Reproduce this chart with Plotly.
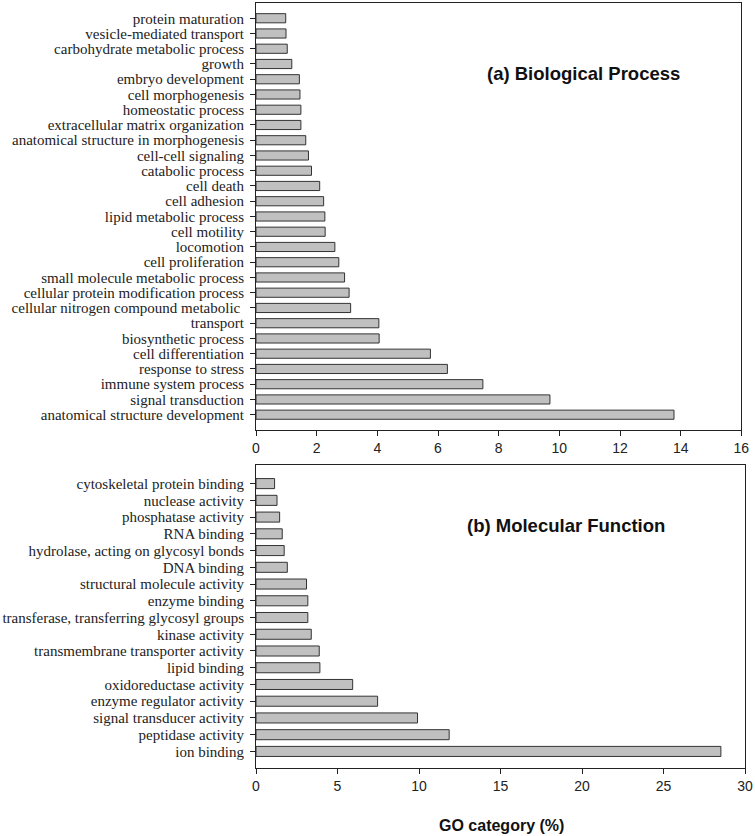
import plotly.graph_objects as go

# (a) Biological Process, listed bottom-up
bp_labels = [
    "anatomical structure development", "signal transduction", "immune system process",
    "response to stress", "cell differentiation", "biosynthetic process", "transport",
    "cellular nitrogen compound metabolic ", "cellular protein modification process",
    "small molecule metabolic process", "cell proliferation", "locomotion", "cell motility",
    "lipid metabolic process", "cell adhesion", "cell death", "catabolic process",
    "cell-cell signaling", "anatomical structure in morphogenesis",
    "extracellular matrix organization", "homeostatic process", "cell morphogenesis",
    "embryo development", "growth", "carbohydrate metabolic process",
    "vesicle-mediated transport", "protein maturation",
]
bp_values = [13.78, 9.69, 7.48, 6.31, 5.75, 4.06, 4.05, 3.12, 3.07, 2.92, 2.73, 2.60, 2.28,
             2.27, 2.23, 2.10, 1.83, 1.73, 1.64, 1.48, 1.48, 1.45, 1.43, 1.18, 1.03, 0.99, 0.98]

# (b) Molecular Function, listed bottom-up
mf_labels = [
    "ion binding", "peptidase activity", "signal transducer activity",
    "enzyme regulator activity", "oxidoreductase activity", "lipid binding",
    "transmembrane transporter activity", "kinase activity",
    "transferase, transferring glycosyl groups", "enzyme binding",
    "structural molecule activity", "DNA binding", "hydrolase, acting on glycosyl bonds",
    "RNA binding", "phosphatase activity", "nuclease activity", "cytoskeletal protein binding",
]
mf_values = [28.52, 11.85, 9.91, 7.46, 5.93, 3.92, 3.88, 3.39, 3.18, 3.18, 3.10, 1.92, 1.73,
             1.61, 1.45, 1.29, 1.14]

bar_style = dict(color="#c0c0c0", line=dict(color="#333333", width=1))

fig = go.Figure()
fig.add_trace(go.Bar(x=bp_values, y=bp_labels, orientation="h", marker=bar_style,
                     width=0.6, xaxis="x", yaxis="y", showlegend=False))
fig.add_trace(go.Bar(x=mf_values, y=mf_labels, orientation="h", marker=bar_style,
                     width=0.6, xaxis="x2", yaxis="y2", showlegend=False))

serif = dict(family="Liberation Serif, Times New Roman, serif", size=15, color="#222222")
sans = dict(family="Liberation Sans, Arial, sans-serif", size=14, color="#222222")

common_x = dict(showline=True, linecolor="#222222", linewidth=1, mirror=True,
                ticks="outside", ticklen=5, tickcolor="#222222", showgrid=False,
                zeroline=False, tickfont=sans)
common_y = dict(showline=True, linecolor="#222222", linewidth=1, mirror=True,
                ticks="outside", ticklen=5, tickcolor="#222222", showgrid=False,
                zeroline=False, tickfont=serif, type="category", ticklabelstandoff=3,
                tickmode="array")

fig.update_layout(
    width=755, height=836,
    margin=dict(l=255, r=9, t=2, b=68),
    paper_bgcolor="white", plot_bgcolor="white",
    bargap=0.4,
    xaxis=dict(common_x, domain=[0, 0.9925], range=[0, 16], dtick=2, anchor="y"),
    yaxis=dict(common_y, domain=[0.4413, 1], range=[-1.03, 27.0], anchor="x",
               categoryorder="array", categoryarray=bp_labels,
               tickvals=bp_labels, ticktext=bp_labels),
    xaxis2=dict(common_x, domain=[0, 1], range=[0, 30], dtick=5, anchor="y2"),
    yaxis2=dict(common_y, domain=[0, 0.3956], range=[-0.99, 17.09], anchor="x2",
                categoryorder="array", categoryarray=mf_labels,
                tickvals=mf_labels, ticktext=mf_labels),
    annotations=[
        dict(text="<b>(a) Biological Process</b>", xref="paper", yref="paper",
             x=0.4684, y=0.9073, xanchor="left", yanchor="middle", showarrow=False,
             font=dict(family="Liberation Sans, Arial, sans-serif", size=18.5, color="#111111")),
        dict(text="<b>(b) Molecular Function</b>", xref="paper", yref="paper",
             x=0.4277, y=0.3172, xanchor="left", yanchor="middle", showarrow=False,
             font=dict(family="Liberation Sans, Arial, sans-serif", size=18.5, color="#111111")),
        dict(text="<b>GO category (%)</b>", xref="paper", yref="paper",
             x=0.5025, y=-0.0757, xanchor="center", yanchor="middle", showarrow=False,
             font=dict(family="Liberation Sans, Arial, sans-serif", size=16, color="#111111")),
    ],
)

fig.write_html("out.html", config={"displayModeBar": False},
               post_script="document.body.style.margin='0';")
